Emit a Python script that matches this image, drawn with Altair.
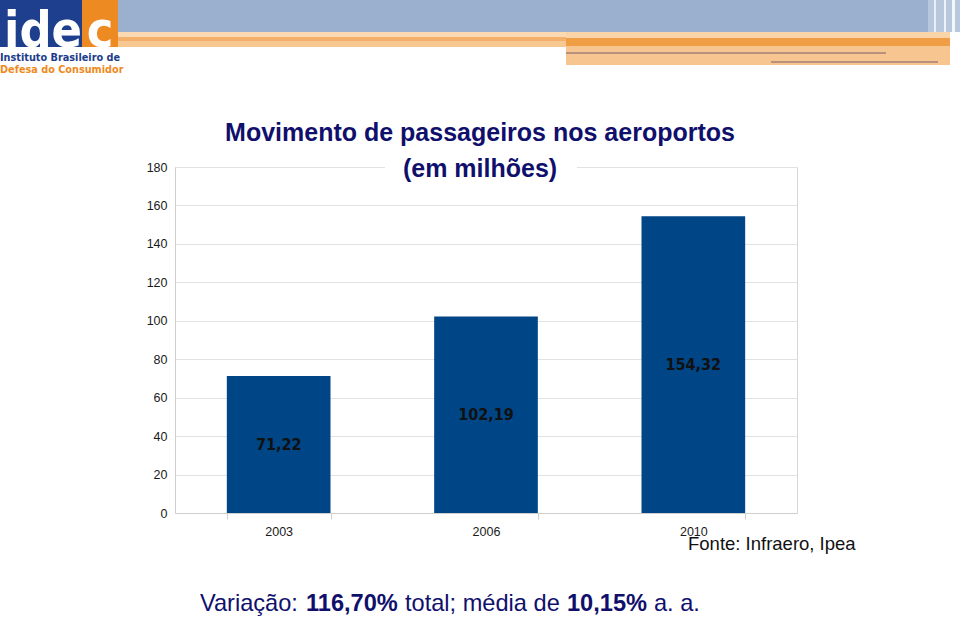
import altair as alt
import pandas as pd

# ---- data ----
years = ["2003", "2006", "2010"]
passengers = [71.22, 102.19, 154.32]
value_labels = ["71,22", "102,19", "154,32"]
y_ticks = [0, 20, 40, 60, 80, 100, 120, 140, 160, 180]

title_line1 = "Movimento de passageiros nos aeroportos"
title_line2 = "(em milhões)"
source_text = "Fonte: Infraero, Ipea"
footer_parts = ["Variação:", "116,70%", "total; média de", "10,15%", "a. a."]
footer_bold = [False, True, False, True, False]

df = pd.DataFrame({"ano": years, "valor": passengers, "rotulo": value_labels})

# ---- layout constants (plot area origin in page pixels) ----
OX, OY = 175, 167
W, H = 622, 346
NAVY = "#10106c"
BAR = "#004586"
COND = "DejaVu Sans Condensed, DejaVu Sans"


def one():
    return alt.Data(values=[{"k": 1}])


def rect(x1, x2, y1, y2, color, opacity=1.0):
    return alt.Chart(one()).mark_rect(color=color, opacity=opacity).encode(
        x=alt.value(x1 - OX), x2=alt.value(x2 - OX),
        y=alt.value(y1 - OY), y2=alt.value(y2 - OY),
    )


def text(t, x, y, size, color, bold=False, align="left", font="Liberation Sans", baseline="alphabetic"):
    return alt.Chart(one()).mark_text(
        text=t, align=align, baseline=baseline, fontSize=size, font=font,
        fontWeight="bold" if bold else "normal", color=color,
    ).encode(x=alt.value(x - OX), y=alt.value(y - OY))


x_scale = alt.Scale(paddingInner=0.5, paddingOuter=0.25)
x_axis = alt.Axis(labelAngle=0, tickBand="extent", tickSize=6,
                  tickColor="#cfcfcf", domainColor="#cfcfcf",
                  labelFont="Liberation Sans", labelFontSize=12.5,
                  labelColor="#1a1a1a", labelPadding=6, grid=False)
y_scale = alt.Scale(domain=[0, 180], nice=False)
y_axis = alt.Axis(values=y_ticks, tickSize=0, labelPadding=8,
                  labelFont="Liberation Sans", labelFontSize=12.5,
                  labelColor="#1a1a1a", domainColor="#cfcfcf",
                  gridColor="#e2e2e2", grid=True, labelOverlap=False)

base = alt.Chart(df)

bars = base.mark_bar(color=BAR).encode(
    x=alt.X("ano:N", sort=years, title=None, scale=x_scale, axis=x_axis),
    y=alt.Y("valor:Q", title=None, scale=y_scale, axis=y_axis),
)

labels = base.transform_calculate(meio="datum.valor / 2").mark_text(
    font=COND, fontWeight="bold", fontSize=16,
    color="#111111", baseline="middle",
).encode(x=alt.X("ano:N", sort=years, title=None, scale=x_scale, axis=x_axis),
         y=alt.Y("meio:Q", title=None, scale=y_scale, axis=y_axis),
         text="rotulo:N")

# header decoration
header = [
    rect(118, 928, 0, 32, "#9bb0ce"),
    rect(928, 960, 0, 32, "#b7c7dd"),
    rect(934, 936, 0, 32, "#e8eef6"),
    rect(944, 946, 0, 32, "#eef2f8"),
    rect(952, 955, 0, 32, "#f4f6fa"),
    rect(118, 566, 32, 37, "#fbd9b2"),
    rect(118, 566, 37, 41, "#f3b06c"),
    rect(118, 566, 41, 47, "#f8c893"),
    rect(566, 950, 32, 38, "#f9d4a8"),
    rect(566, 950, 38, 46, "#ef9e46"),
    rect(566, 950, 46, 65, "#f7c690"),
    rect(566, 886, 52, 54, "#b8907e"),
    rect(771, 938, 61, 63, "#b8907e"),
    rect(0, 82, 0, 47, "#1e3f8e"),
    rect(82, 118, 0, 47, "#ee8a22"),
    text("ide", 4, 47, 50, "white", bold=True, font=COND),
    text("c", 100, 47, 50, "white", bold=True, align="center", font=COND),
    text("Instituto Brasileiro de", 0, 61, 10.8, "#1c3c8c", bold=True, font=COND),
    text("Defesa do Consumidor", 0, 73, 10.8, "#ee8a22", bold=True, font=COND),
]

titles = [
    text(title_line1, 480, 141, 25, NAVY, bold=True, align="center"),
    rect(385, 577, 153, 183, "white"),
    text(title_line2, 480, 177, 25, NAVY, bold=True, align="center"),
    text(source_text, 688, 550, 18.5, "#111111"),
]

footer_x = [200, 306, 405, 567, 654]
footer = [text(t, x, 611, 23.6, NAVY, bold=b) for t, x, b in zip(footer_parts, footer_x, footer_bold)]

chart = alt.layer(bars, labels, *header, *titles, *footer).properties(
    width=W, height=H,
    autosize=alt.AutoSizeParams(type="none"),
    padding={"left": OX, "top": OY, "right": 960 - OX - W, "bottom": 618 - OY - H},
    background="white",
).configure_view(stroke="#d6d6d6")

chart.save("out.html", embed_options={"renderer": "svg", "actions": False})
